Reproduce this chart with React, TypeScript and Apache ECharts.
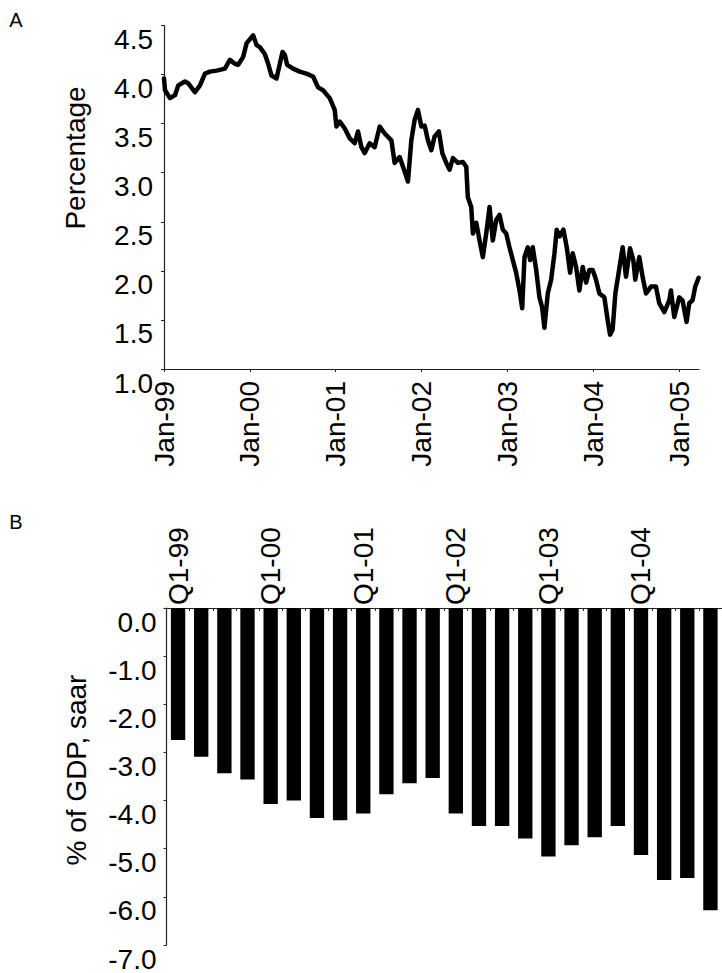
import React, { useEffect, useRef } from "react";
import * as echarts from "echarts";

// Panel A: real yield (percentage), time as decimal years
const years = [
  1999.0, 1999.012, 1999.07, 1999.128, 1999.166, 1999.244, 1999.283, 1999.36, 1999.419, 1999.477,
  1999.535, 1999.613, 1999.709, 1999.767, 1999.826, 1999.864, 1999.922, 1999.962, 2000.02, 2000.038,
  2000.078, 2000.116, 2000.174, 2000.213, 2000.252, 2000.31, 2000.349, 2000.38, 2000.407, 2000.434,
  2000.503, 2000.581, 2000.659, 2000.736, 2000.794, 2000.852, 2000.93, 2000.988, 2001.008, 2001.047,
  2001.105, 2001.163, 2001.221, 2001.259, 2001.299, 2001.337, 2001.395, 2001.453, 2001.512, 2001.57,
  2001.648, 2001.686, 2001.744, 2001.783, 2001.841, 2001.88, 2001.919, 2001.957, 2001.997, 2002.035,
  2002.073, 2002.113, 2002.151, 2002.201, 2002.241, 2002.287, 2002.326, 2002.364, 2002.422, 2002.48,
  2002.52, 2002.538, 2002.578, 2002.597, 2002.636, 2002.674, 2002.713, 2002.752, 2002.791, 2002.829,
  2002.869, 2002.907, 2002.945, 2002.985, 2003.023, 2003.062, 2003.101, 2003.14, 2003.171, 2003.198,
  2003.236, 2003.264, 2003.294, 2003.334, 2003.372, 2003.403, 2003.43, 2003.469, 2003.508, 2003.547,
  2003.573, 2003.605, 2003.651, 2003.69, 2003.729, 2003.759, 2003.799, 2003.837, 2003.876, 2003.915,
  2003.953, 2003.992, 2004.031, 2004.07, 2004.128, 2004.166, 2004.194, 2004.224, 2004.256, 2004.294,
  2004.341, 2004.38, 2004.427, 2004.465, 2004.488, 2004.535, 2004.573, 2004.613, 2004.671, 2004.729,
  2004.767, 2004.826, 2004.884, 2004.903, 2004.942, 2005.0, 2005.038, 2005.085, 2005.116, 2005.155,
  2005.186, 2005.226,
];
const yields = [
  3.96, 3.84, 3.76, 3.79, 3.89, 3.93, 3.91, 3.82, 3.89, 4.01,
  4.03, 4.04, 4.06, 4.15, 4.11, 4.1, 4.18, 4.32, 4.38, 4.4,
  4.3, 4.28, 4.21, 4.11, 3.99, 3.96, 4.11, 4.23, 4.2, 4.1,
  4.06, 4.03, 4.01, 3.98, 3.87, 3.84, 3.76, 3.64, 3.47, 3.52,
  3.45, 3.35, 3.3, 3.42, 3.26, 3.2, 3.3, 3.26, 3.47, 3.4,
  3.33, 3.1, 3.16, 3.06, 2.91, 3.33, 3.54, 3.64, 3.47, 3.48,
  3.33, 3.23, 3.37, 3.42, 3.2, 3.1, 3.03, 3.15, 3.1, 3.11,
  3.06, 2.75, 2.65, 2.38, 2.49, 2.31, 2.14, 2.38, 2.65, 2.31,
  2.52, 2.57, 2.42, 2.38, 2.24, 2.11, 1.98, 1.8, 1.62, 2.14,
  2.24, 2.11, 2.24, 2.01, 1.73, 1.63, 1.42, 1.77, 1.91, 2.18,
  2.42, 2.35, 2.42, 2.24, 1.98, 2.18, 2.04, 1.8, 2.04, 1.88,
  2.01, 2.01, 1.91, 1.77, 1.73, 1.5, 1.35, 1.4, 1.77, 1.98,
  2.24, 1.94, 2.23, 2.11, 1.91, 2.14, 1.94, 1.77, 1.84, 1.84,
  1.67, 1.58, 1.7, 1.8, 1.53, 1.73, 1.7, 1.48, 1.67, 1.7,
  1.84, 1.93,
];
const yearTicks = [1999, 2000, 2001, 2002, 2003, 2004, 2005];
const yTicksA = [1.0, 1.5, 2.0, 2.5, 3.0, 3.5, 4.0, 4.5];

// Panel B: current account, % of GDP, saar
const quarters = [
  "Q1-99", "Q2-99", "Q3-99", "Q4-99",
  "Q1-00", "Q2-00", "Q3-00", "Q4-00",
  "Q1-01", "Q2-01", "Q3-01", "Q4-01",
  "Q1-02", "Q2-02", "Q3-02", "Q4-02",
  "Q1-03", "Q2-03", "Q3-03", "Q4-03",
  "Q1-04", "Q2-04", "Q3-04", "Q4-04",
];
const balance = [
  -2.74, -3.09, -3.43, -3.56,
  -4.07, -4.0, -4.36, -4.41,
  -4.27, -3.87, -3.64, -3.53,
  -4.27, -4.53, -4.53, -4.79,
  -5.16, -4.93, -4.76, -4.53,
  -5.13, -5.65, -5.61, -6.28,
];

const FONT = "'Liberation Sans', Arial, Helvetica, sans-serif";

export default function App() {
  const ref = useRef<HTMLDivElement>(null);
  useEffect(() => {
    if (!ref.current) return;
    const chart = echarts.init(ref.current, null, { renderer: "svg" });
    const axisLine = { show: true, lineStyle: { color: "#222", width: 1.2 } };
    const label = { color: "#000", fontFamily: FONT, fontSize: 28 };
    chart.setOption({
      animation: false,
      backgroundColor: "#fff",
      grid: [
        { left: 164, top: 25.5, width: 535, height: 343.5, containLabel: false },
        { left: 166.5, top: 608, width: 559, height: 350, containLabel: false },
      ],
      xAxis: [
        {
          gridIndex: 0,
          type: "value",
          min: 1999,
          max: 2005.23,
          interval: 1,
          axisLine: { ...axisLine, onZero: false },
          axisTick: { show: true, length: 3, customValues: yearTicks, lineStyle: { color: "#222" } },
          splitLine: { show: false },
          axisLabel: {
            ...label,
            rotate: 90,
            margin: 12,
            padding: [8, 0, 0, 0],
            customValues: yearTicks,
            formatter: (v: number) => "Jan-" + String(Math.round(v)).slice(2),
          },
        },
        {
          gridIndex: 1,
          type: "category",
          position: "top",
          data: quarters,
          boundaryGap: true,
          axisLine: { ...axisLine, onZero: false },
          axisTick: { show: true, inside: true, length: 3, interval: 0, lineStyle: { color: "#222" } },
          splitLine: { show: false },
          axisLabel: { ...label, rotate: -90, margin: 3, interval: 3 },
        },
      ],
      yAxis: [
        {
          gridIndex: 0,
          type: "value",
          min: 1.0,
          max: 4.5,
          interval: 0.5,
          axisLine,
          axisTick: { show: true, length: 3, lineStyle: { color: "#222" } },
          splitLine: { show: false },
          axisLabel: {
            ...label,
            margin: 11,
            verticalAlign: "top",
            customValues: yTicksA,
            formatter: (v: number) => v.toFixed(1),
          },
        },
        {
          gridIndex: 1,
          type: "value",
          min: -7,
          max: 0,
          interval: 1,
          axisLine,
          axisTick: { show: true, length: 3, lineStyle: { color: "#222" } },
          splitLine: { show: false },
          axisLabel: {
            ...label,
            margin: 10,
            verticalAlign: "top",
            formatter: (v: number) => v.toFixed(1),
          },
        },
      ],
      series: [
        {
          type: "line",
          xAxisIndex: 0,
          yAxisIndex: 0,
          data: years.map((y, i) => [y, yields[i]]),
          showSymbol: false,
          symbol: "none",
          lineStyle: { color: "#000", width: 4.5, join: "round", cap: "round" },
          itemStyle: { color: "#000" },
        },
        {
          type: "bar",
          xAxisIndex: 1,
          yAxisIndex: 1,
          data: balance,
          barWidth: "62%",
          itemStyle: { color: "#000" },
        },
      ],
      graphic: [
        { type: "text", x: 16, y: 20, style: { text: "A", fontFamily: FONT, fontSize: 20, fill: "#000", align: "center", verticalAlign: "middle" } },
        { type: "text", x: 16, y: 522, style: { text: "B", fontFamily: FONT, fontSize: 20, fill: "#000", align: "center", verticalAlign: "middle" } },
        { type: "text", x: 75, y: 158, rotation: Math.PI / 2, style: { text: "Percentage", fontFamily: FONT, fontSize: 28, fill: "#000", align: "center", verticalAlign: "middle" } },
        { type: "text", x: 76, y: 770, rotation: Math.PI / 2, style: { text: "% of GDP, saar", fontFamily: FONT, fontSize: 28, fill: "#000", align: "center", verticalAlign: "middle" } },
      ],
    });
    return () => chart.dispose();
  }, []);
  return (
    <div
      ref={ref}
      style={{ position: "fixed", left: 0, top: 0, width: 722, height: 973, background: "#fff" }}
    />
  );
}
